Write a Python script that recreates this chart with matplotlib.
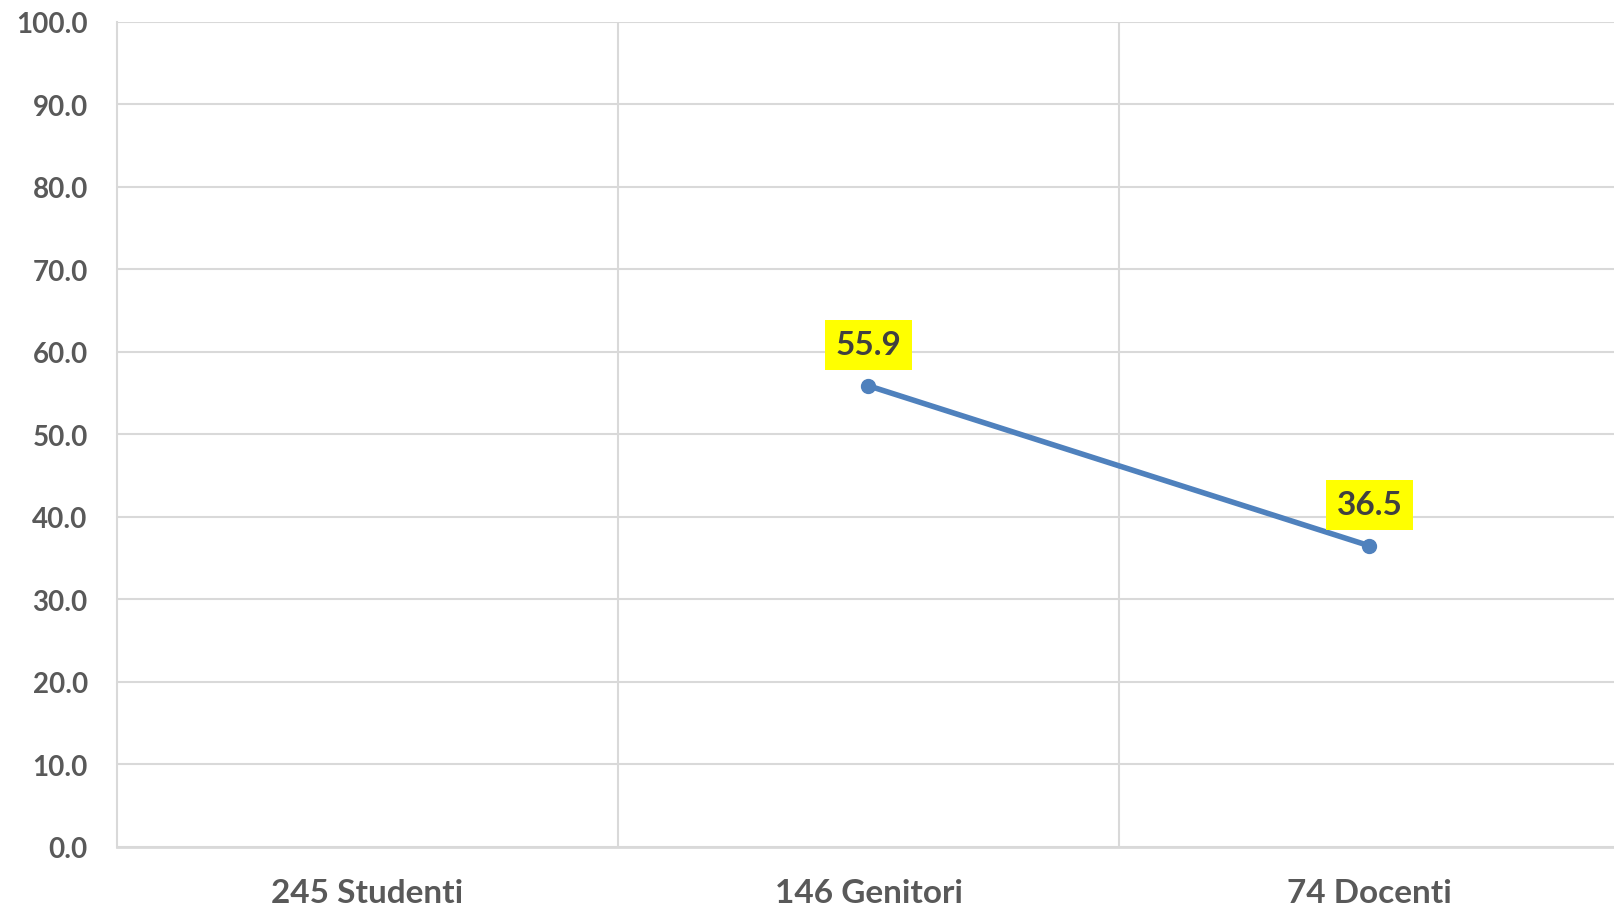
import numpy as np
import matplotlib.pyplot as plt

# dati
categories = ["245 Studenti", "146 Genitori", "74 Docenti"]
values = [np.nan, 55.9, 36.5]
y_ticks = [0, 10, 20, 30, 40, 50, 60, 70, 80, 90, 100]

plt.rcParams['font.family'] = ['Lato', 'DejaVu Sans']
text_color = "#595959"
grid_color = "#D9D9D9"
line_color = "#4F81BD"

fig = plt.figure(figsize=(16.15, 9.12), dpi=100)
ax = fig.add_axes([0.0724, 0.0702, 0.9307, 0.9046])

x = np.arange(len(categories))
ax.plot(x, values, color=line_color, linewidth=4, marker="o", markersize=10,
        solid_capstyle="round")

for xi, v in zip(x, values):
  if np.isnan(v):
    continue
  ax.annotate(f"{v:.1f}", (xi, v), xytext=(0, 19), textcoords="offset points",
              ha="center", va="bottom", fontsize=24, fontweight="bold",
              color="#404040",
              bbox=dict(boxstyle="square,pad=0.32", fc="#FFFF00", ec="none"))

ax.set_xlim(-0.5, len(categories) - 0.5)
ax.set_ylim(0, 100)
ax.set_yticks(y_ticks)
ax.set_yticklabels([f"{t:.1f}" for t in y_ticks])
ax.set_xticks(x)
ax.set_xticklabels(categories)
ax.set_xticks(x[:-1] + 0.5, minor=True)

ax.tick_params(axis="y", length=0, pad=21, labelsize=20, labelcolor=text_color)
ax.tick_params(axis="x", which="both", length=0, pad=22, labelsize=24,
               labelcolor=text_color)
for lbl in ax.get_xticklabels() + ax.get_yticklabels():
  lbl.set_fontweight("bold")

ax.grid(axis="y", color=grid_color, linewidth=1.5)
ax.grid(axis="x", which="minor", color=grid_color, linewidth=1.5)
ax.set_axisbelow(True)

for side in ["top", "right"]:
  ax.spines[side].set_visible(False)
ax.spines["left"].set_color(grid_color)
ax.spines["left"].set_linewidth(1.5)
ax.spines["bottom"].set_color(grid_color)
ax.spines["bottom"].set_linewidth(2)

fig.savefig("out.png", dpi=100)
